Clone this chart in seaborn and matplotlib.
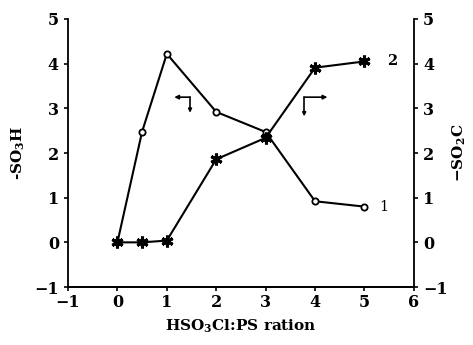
import matplotlib
matplotlib.use("Agg")
import matplotlib.pyplot as plt
import seaborn as sns
import pandas as pd

# data
ratio = [0, 0.5, 1, 2, 3, 4, 5]
so3h = [0.0, 2.48, 4.22, 2.92, 2.47, 0.92, 0.80]     # curve 1 (left axis)
so2cl = [0.0, 0.0, 0.04, 1.86, 2.34, 3.91, 4.05]     # curve 2 (right axis)
xticks = [-1, 0, 1, 2, 3, 4, 5, 6]
yticks = [-1, 0, 1, 2, 3, 4, 5]

sns.set_theme(style="ticks")
plt.rcParams['font.family'] = ['DejaVu Serif', 'DejaVu Sans']
plt.rcParams['mathtext.fontset'] = 'dejavuserif'
plt.rcParams['text.color'] = 'black'
plt.rcParams['axes.labelcolor'] = 'black'

df1 = pd.DataFrame({"x": ratio, "y": so3h})
df2 = pd.DataFrame({"x": ratio, "y": so2cl})

fig = plt.figure(figsize=(4.73, 3.45), dpi=100)
ax = fig.add_axes([0.1438, 0.168, 0.7312, 0.777])
ax2 = ax.twinx()

sns.lineplot(data=df1, x="x", y="y", ax=ax, color="black", linewidth=1.5,
             marker="o", markersize=4.5, markerfacecolor="white",
             markeredgecolor="black", markeredgewidth=1.3)
sns.lineplot(data=df2, x="x", y="y", ax=ax2, color="black", linewidth=1.5,
             marker=(6, 2, 0), markersize=8.5, markeredgecolor="black",
             markeredgewidth=2.2)

for a in (ax, ax2):
    a.set_xlim(-1, 6)
    a.set_ylim(-1, 5)
    a.set_yticks(yticks)
    a.spines['top'].set_visible(False)
    for s in a.spines.values():
        s.set_linewidth(1.3)
        s.set_color("black")
    a.tick_params(direction="out", length=3, width=1.2, colors="black",
                  labelsize=11.5)
ax.set_xticks(xticks)
ax.set_xticklabels([str(t).replace('-', '\u2212') for t in xticks], fontweight="bold")
ax.set_yticklabels([str(t).replace('-', '\u2212') for t in yticks], fontweight="bold")
ax2.set_yticklabels([str(t).replace('-', '\u2212') for t in yticks], fontweight="bold")
ax.spines['right'].set_visible(False)
ax2.spines['left'].set_visible(False)
ax.tick_params(axis='x', pad=2)

ax.set_xlabel("HSO$_\\mathbf{3}$Cl:PS ration", fontsize=11, fontweight="bold",
              labelpad=5, color="black")
ax.set_ylabel("-SO$_\\mathbf{3}$H", fontsize=11, fontweight="bold",
              labelpad=5, color="black")
ax2.set_ylabel("\u2212SO$_\\mathbf{2}$C", fontsize=11, fontweight="bold",
               labelpad=2, color="black")

# curve labels
ax.text(5.3, 0.8, "1", fontsize=10.5, va="center", ha="left", color="black")
ax.text(5.45, 4.05, "2", fontsize=10.5, fontweight="bold", va="center",
        ha="left", color="black")

# axis-indicating arrows
kw = dict(color="black", lw=1.2)
ax.plot([1.47, 1.47], [3.25, 2.98], **kw)
ax.annotate("", xy=(1.15, 3.25), xytext=(1.47, 3.25),
            arrowprops=dict(arrowstyle="-|>", color="black", lw=1.2,
                            mutation_scale=6, shrinkA=0, shrinkB=0))
ax.annotate("", xy=(1.47, 2.9), xytext=(1.47, 3.0),
            arrowprops=dict(arrowstyle="-|>", color="black", lw=1.2,
                            mutation_scale=5, shrinkA=0, shrinkB=0))
ax.plot([3.78, 3.78], [2.92, 3.25], **kw)
ax.annotate("", xy=(4.25, 3.25), xytext=(3.78, 3.25),
            arrowprops=dict(arrowstyle="-|>", color="black", lw=1.2,
                            mutation_scale=6, shrinkA=0, shrinkB=0))
ax.annotate("", xy=(3.78, 2.82), xytext=(3.78, 2.92),
            arrowprops=dict(arrowstyle="-|>", color="black", lw=1.2,
                            mutation_scale=5, shrinkA=0, shrinkB=0))

fig.savefig("out.png", dpi=100)
